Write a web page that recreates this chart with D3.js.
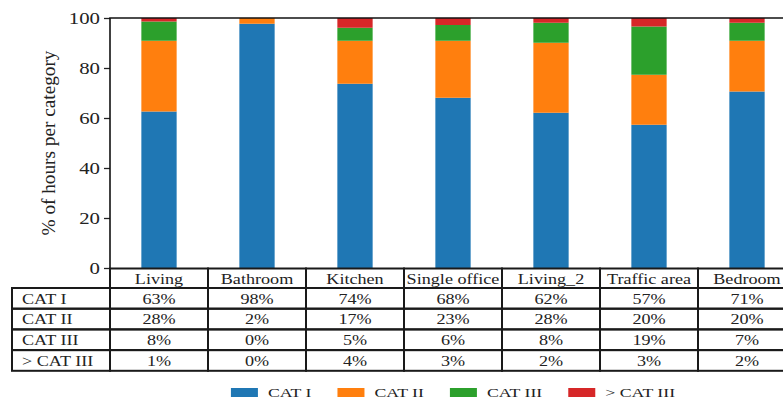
<!DOCTYPE html>
<html>
<head>
<meta charset="utf-8">
<script src="https://cdn.jsdelivr.net/npm/d3@7"></script>
<style>
  html, body { margin: 0; padding: 0; background: #fff; }
  svg { display: block; }
</style>
</head>
<body>
<svg id="chart" width="783" height="402"></svg>
<script>
// Share of hours per comfort category, by room type
const categories = ["Living", "Bathroom", "Kitchen", "Single office", "Living_2", "Traffic area", "Bedroom"];
const catI     = [62.6, 97.7, 73.7, 68.1, 62.1, 57.3, 70.6];
const catII    = [28.3,  2.3, 17.2, 22.8, 28.0, 20.0, 20.3];
const catIII   = [ 7.7,  0.0,  5.2,  6.3,  8.0, 19.3,  7.2];
const aboveIII = [ 1.4,  0.0,  3.9,  2.8,  1.9,  3.4,  1.9];
const seriesNames = ["CAT I", "CAT II", "CAT III", "> CAT III"];
const seriesColors = ["#1f77b4", "#ff7f0e", "#2ca02c", "#d62728"];
const yTicks = [0, 20, 40, 60, 80, 100];

const series = [catI, catII, catIII, aboveIII];
const FONT = "'Liberation Serif', 'DejaVu Serif', serif";

const svg = d3.select("#chart");
const plot = { left: 110, right: 796, top: 18, bottom: 268 };

const x = d3.scaleBand().domain(categories).range([plot.left, plot.right]);
const y = d3.scaleLinear().domain([0, 100]).range([plot.bottom, plot.top]);
const barW = x.bandwidth() * 0.36;

// widened serif text helper
function label(g, txt, px, py, size, sx, anchor) {
  return g.append("text")
    .attr("transform", `translate(${px},${py}) scale(${sx},1)`)
    .attr("text-anchor", anchor || "middle")
    .attr("font-family", FONT)
    .attr("font-size", size)
    .attr("fill", "#222")
    .text(txt);
}

// stacked bars
const rows = categories.map((c, i) => {
  const r = { cat: c };
  seriesNames.forEach((s, k) => r[s] = series[k][i]);
  return r;
});
const stacked = d3.stack().keys(seriesNames)(rows);
svg.append("g").selectAll("g").data(stacked).join("g")
  .attr("fill", (d, k) => seriesColors[k])
  .selectAll("rect").data(d => d).join("rect")
  .attr("x", d => x(d.data.cat) + (x.bandwidth() - barW) / 2)
  .attr("width", barW)
  .attr("y", d => y(d[1]))
  .attr("height", d => y(d[0]) - y(d[1]));

// y axis
const yAxis = svg.append("g")
  .attr("transform", `translate(${plot.left},0)`)
  .call(d3.axisLeft(y).tickValues(yTicks).tickSize(6).tickFormat(""));
yAxis.select(".domain").remove();
yAxis.selectAll(".tick line").attr("stroke", "#222").attr("stroke-width", 1.3);
const yLab = svg.append("g");
yTicks.forEach(t => label(yLab, t, 100, y(t) + 5.5, 16, 1.3, "end"));

// spines
svg.append("line").attr("x1", plot.left).attr("x2", plot.left)
  .attr("y1", plot.top).attr("y2", plot.bottom)
  .attr("stroke", "#111").attr("stroke-width", 1.6);
svg.append("line").attr("x1", plot.left - 0.8).attr("x2", plot.right)
  .attr("y1", plot.top).attr("y2", plot.top)
  .attr("stroke", "#111").attr("stroke-width", 1.6);

// y axis title
svg.append("text")
  .attr("transform", `translate(55,${(plot.top + plot.bottom) / 2}) rotate(-90) scale(1.07,1)`)
  .attr("text-anchor", "middle")
  .attr("font-family", FONT)
  .attr("font-size", 18)
  .attr("fill", "#222")
  .text("% of hours per category");

// table under the bars
const table = svg.append("g");
const headTop = 268.5, headBot = 288, rowH = 20.7;
const rowLeft = 12;
const lineW = 2, lineC = "#1a1a1a";
const fmt = v => Math.round(v) + "%";

// header cells
categories.forEach(c => {
  table.append("rect")
    .attr("x", x(c)).attr("y", headTop)
    .attr("width", x.bandwidth()).attr("height", headBot - headTop)
    .attr("fill", "none").attr("stroke", lineC).attr("stroke-width", lineW);
  label(table, c, x(c) + x.bandwidth() / 2, headBot - 4.5, 14.5, 1.25);
});

// body rows
seriesNames.forEach((s, k) => {
  const top = headBot + k * rowH;
  table.append("rect")
    .attr("x", rowLeft).attr("y", top)
    .attr("width", plot.left - rowLeft).attr("height", rowH)
    .attr("fill", "none").attr("stroke", lineC).attr("stroke-width", lineW);
  label(table, s, rowLeft + 10, top + rowH - 5, 14.5, 1.25, "start");
  categories.forEach((c, i) => {
    table.append("rect")
      .attr("x", x(c)).attr("y", top)
      .attr("width", x.bandwidth()).attr("height", rowH)
      .attr("fill", "none").attr("stroke", lineC).attr("stroke-width", lineW);
    label(table, fmt(series[k][i]), x(c) + x.bandwidth() / 2, top + rowH - 5, 14.5, 1.25);
  });
});

// legend, centred under the plot
const leg = svg.append("g");
const legSx = 1.42, legSize = 12.5, swW = 27, swH = 9, gap = 10, colGap = 26;
const items = seriesNames.map((s, k) => {
  const t = label(leg, s, 0, 0, legSize, legSx, "start");
  return { s, k, t, w: t.node().getComputedTextLength() * legSx };
});
const total = d3.sum(items, d => swW + gap + d.w) + colGap * (items.length - 1);
let cx = (plot.left + plot.right) / 2 - total / 2;
items.forEach(d => {
  leg.append("rect").attr("x", cx).attr("y", 388).attr("width", swW).attr("height", swH)
    .attr("fill", seriesColors[d.k]);
  d.t.attr("transform", `translate(${cx + swW + gap},397) scale(${legSx},1)`);
  cx += swW + gap + d.w + colGap;
});
</script>
</body>
</html>
